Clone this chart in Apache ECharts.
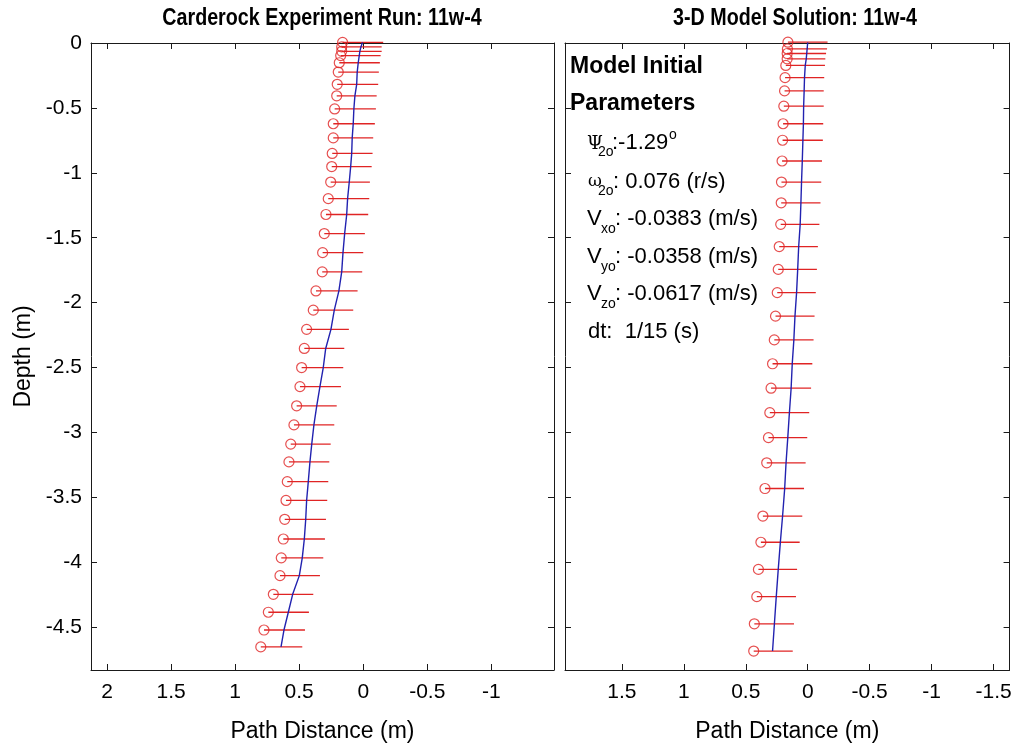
<!DOCTYPE html>
<html><head><meta charset="utf-8">
<script src="https://cdn.jsdelivr.net/npm/echarts@6/dist/echarts.min.js"></script>
<style>html,body{margin:0;padding:0;background:#fff}#c{width:1029px;height:748px}</style>
</head><body><div id="c"></div>
<script>
// ---- Left panel: Carderock experiment (depth in m, path distance in m)
const depthL = [0.005, -0.030, -0.064, -0.097, -0.152, -0.224, -0.318, -0.407, -0.508, -0.622, -0.731, -0.851, -0.952, -1.071, -1.199, -1.321,
  -1.468, -1.615, -1.763, -1.910, -2.058, -2.206, -2.353, -2.500, -2.647, -2.795, -2.942,
  -3.090, -3.227, -3.379, -3.524, -3.669, -3.821, -3.966, -4.103, -4.247, -4.385, -4.522, -4.652];
const noseL = [0.161, 0.168, 0.168, 0.176, 0.187, 0.195, 0.203, 0.207, 0.223, 0.234, 0.234, 0.242, 0.246, 0.254, 0.273, 0.291,
  0.304, 0.317, 0.320, 0.369, 0.390, 0.442, 0.460, 0.481, 0.494, 0.520, 0.541,
  0.566, 0.580, 0.593, 0.603, 0.613, 0.624, 0.640, 0.650, 0.702, 0.741, 0.775, 0.800];
const tailL = [-0.156, -0.144, -0.144, -0.136, -0.130, -0.122, -0.117, -0.105, -0.099, -0.091, -0.078, -0.073, -0.066, -0.052, -0.047, -0.039,
  -0.013, 0.000, 0.008, 0.044, 0.078, 0.112, 0.148, 0.156, 0.174, 0.207, 0.226,
  0.254, 0.265, 0.273, 0.281, 0.291, 0.299, 0.312, 0.338, 0.390, 0.424, 0.455, 0.476];
const pathL = [0.005, 0.018, 0.026, 0.031, 0.039, 0.047, 0.051, 0.065, 0.073, 0.078, 0.086, 0.090, 0.098, 0.109, 0.122, 0.129,
  0.145, 0.158, 0.168, 0.190, 0.226, 0.252, 0.293, 0.312, 0.338, 0.363, 0.385,
  0.402, 0.416, 0.429, 0.442, 0.449, 0.460, 0.476, 0.499, 0.551, 0.585, 0.619, 0.642];

// ---- Right panel: 3-D model solution
const depthR = [0.006, -0.046, -0.081, -0.122, -0.173, -0.267, -0.369, -0.487, -0.622, -0.749, -0.909, -1.071, -1.231, -1.397,
  -1.568, -1.744, -1.923, -2.104, -2.287, -2.471, -2.659, -2.848, -3.040, -3.234,
  -3.432, -3.644, -3.846, -4.055, -4.265, -4.474, -4.684];
const noseR = [0.160, 0.164, 0.166, 0.166, 0.177, 0.183, 0.187, 0.193, 0.199, 0.203, 0.207, 0.212, 0.214, 0.218,
  0.230, 0.238, 0.246, 0.260, 0.270, 0.284, 0.296, 0.306, 0.317, 0.331,
  0.345, 0.362, 0.378, 0.398, 0.411, 0.431, 0.436];
const tailR = [-0.160, -0.156, -0.148, -0.142, -0.139, -0.133, -0.129, -0.129, -0.125, -0.122, -0.115, -0.109, -0.103, -0.094,
  -0.082, -0.074, -0.065, -0.055, -0.047, -0.037, -0.027, -0.012, 0.004, 0.017,
  0.030, 0.044, 0.065, 0.086, 0.095, 0.111, 0.121];
const pathR = [0.000, 0.005, 0.008, 0.012, 0.020, 0.026, 0.029, 0.033, 0.035, 0.039, 0.044, 0.050, 0.055, 0.061,
  0.073, 0.081, 0.090, 0.103, 0.112, 0.125, 0.134, 0.148, 0.161, 0.175,
  0.186, 0.203, 0.221, 0.238, 0.254, 0.269, 0.284];

// ---- Ticks and texts
const yTicks = [0, -0.5, -1, -1.5, -2, -2.5, -3, -3.5, -4, -4.5];
const xTicksL = [2, 1.5, 1, 0.5, 0, -0.5, -1];
const xTicksR = [1.5, 1, 0.5, 0, -0.5, -1, -1.5];
const titleL = 'Carderock Experiment Run: 11w-4';
const titleR = '3-D Model Solution: 11w-4';
const xName = 'Path Distance (m)';
const yName = 'Depth (m)';

const FONT = '"Liberation Sans", Arial, Helvetica, sans-serif';
const RED = '#e02424';
const BLUE = '#2222b0';
const AX = '#1a1a1a';

const chart = echarts.init(document.getElementById('c'), null, {renderer: 'canvas'});

function xAx(grid, min, max, ticks, pos, main) {
  return {
    type: 'value', gridIndex: grid, position: pos, inverse: true, min: min, max: max,
    axisLine: {show: true, onZero: false, lineStyle: {color: AX, width: 1}},
    axisTick: {show: true, inside: true, length: 6, customValues: ticks, lineStyle: {color: AX}},
    axisLabel: {show: main, customValues: ticks, margin: 12, fontSize: 21, color: '#000', fontFamily: FONT},
    splitLine: {show: false},
    name: main ? xName : '', nameLocation: 'middle', nameGap: 50,
    nameTextStyle: {fontSize: 23, color: '#000', fontFamily: FONT}
  };
}
function yAx(grid, pos, showLabel, name) {
  return {
    type: 'value', gridIndex: grid, position: pos, min: -4.83, max: 0,
    axisLine: {show: true, onZero: false, lineStyle: {color: AX, width: 1}},
    axisTick: {show: true, inside: true, length: 6, customValues: yTicks, lineStyle: {color: AX}},
    axisLabel: {show: showLabel, customValues: yTicks, margin: 9, fontSize: 21, color: '#000', fontFamily: FONT},
    splitLine: {show: false},
    name: name ? yName : '', nameLocation: 'middle', nameGap: 56,
    nameTextStyle: {fontSize: 23, color: '#000', fontFamily: FONT}
  };
}

function stems(xi, yi, depth, nose, tail) {
  return {
    type: 'custom', xAxisIndex: xi, yAxisIndex: yi, clip: false, silent: true, z: 2,
    data: depth.map((d, i) => [nose[i], tail[i], d]),
    encode: {x: [0, 1], y: 2},
    renderItem: function (params, api) {
      const p1 = api.coord([api.value(0), api.value(2)]);
      const p2 = api.coord([api.value(1), api.value(2)]);
      return {type: 'line', shape: {x1: p1[0], y1: p1[1], x2: p2[0], y2: p2[1]},
        style: {stroke: RED, lineWidth: 1.3}};
    }
  };
}
function circles(xi, yi, depth, nose) {
  return {
    type: 'scatter', xAxisIndex: xi, yAxisIndex: yi, clip: false, silent: true, z: 3,
    symbol: 'circle', symbolSize: 10,
    itemStyle: {color: 'rgba(0,0,0,0)', borderColor: RED, borderWidth: 1.2},
    data: depth.map((d, i) => [nose[i], d])
  };
}
function path(xi, yi, depth, px) {
  return {
    type: 'line', xAxisIndex: xi, yAxisIndex: yi, silent: true, z: 4,
    showSymbol: false, symbol: 'none',
    lineStyle: {color: BLUE, width: 1.4},
    data: depth.map((d, i) => [px[i], d])
  };
}

function txt(x, y, text, size, opts) {
  opts = opts || {};
  return {type: 'text', x: x, y: y, silent: true, scaleX: opts.sx || 1,
    style: {text: text, fill: '#000', verticalAlign: 'middle', align: opts.align || 'left',
      font: (opts.bold ? 'bold ' : '') + size + 'px ' + (opts.family || FONT)}};
}

const graphics = [
  txt(322, 18, titleL, 24, {bold: true, align: 'center', sx: 0.82}),
  txt(795, 18, titleR, 24, {bold: true, align: 'center', sx: 0.82}),
  txt(570, 67, 'Model Initial', 23, {bold: true}),
  txt(570, 104, 'Parameters', 23, {bold: true}),
  // psi line
  txt(587, 144, 'Ψ', 18, {family: '"DejaVu Serif", serif'}),
  txt(598, 152, '2o', 14),
  txt(612, 143, ':-1.29', 22),
  txt(669, 135, 'o', 14),
  // omega line
  txt(588, 182, 'ω', 17, {family: '"DejaVu Serif", serif'}),
  txt(598, 191, '2o', 14),
  txt(613, 182, ': 0.076 (r/s)', 22),
  // velocities
  txt(587, 219, 'V', 22), txt(601, 229, 'xo', 14), txt(615, 219, ': -0.0383 (m/s)', 22),
  txt(587, 257, 'V', 22), txt(601, 267, 'yo', 14), txt(615, 257, ': -0.0358 (m/s)', 22),
  txt(587, 294, 'V', 22), txt(601, 304, 'zo', 14), txt(615, 294, ': -0.0617 (m/s)', 22),
  txt(588, 332, 'dt:  1/15 (s)', 22)
];

const option = {
  backgroundColor: '#fff',
  animation: false,
  grid: [
    {left: 91, top: 43, width: 463, height: 635, containLabel: false},
    {left: 565, top: 43, width: 460, height: 635, containLabel: false}
  ],
  xAxis: [
    xAx(0, -1.49, 2.126, xTicksL, 'bottom', true),
    xAx(0, -1.49, 2.126, xTicksL, 'top', false),
    xAx(1, -1.629, 1.959, xTicksR, 'bottom', true),
    xAx(1, -1.629, 1.959, xTicksR, 'top', false)
  ],
  yAxis: [
    yAx(0, 'left', true, true),
    yAx(0, 'right', false, false),
    yAx(1, 'left', false, false),
    yAx(1, 'right', false, false)
  ],
  series: [
    stems(0, 0, depthL, noseL, tailL),
    circles(0, 0, depthL, noseL),
    path(0, 0, depthL, pathL),
    stems(2, 2, depthR, noseR, tailR),
    circles(2, 2, depthR, noseR),
    path(2, 2, depthR, pathR)
  ],
  graphic: graphics
};
chart.setOption(option);
</script>
</body></html>
